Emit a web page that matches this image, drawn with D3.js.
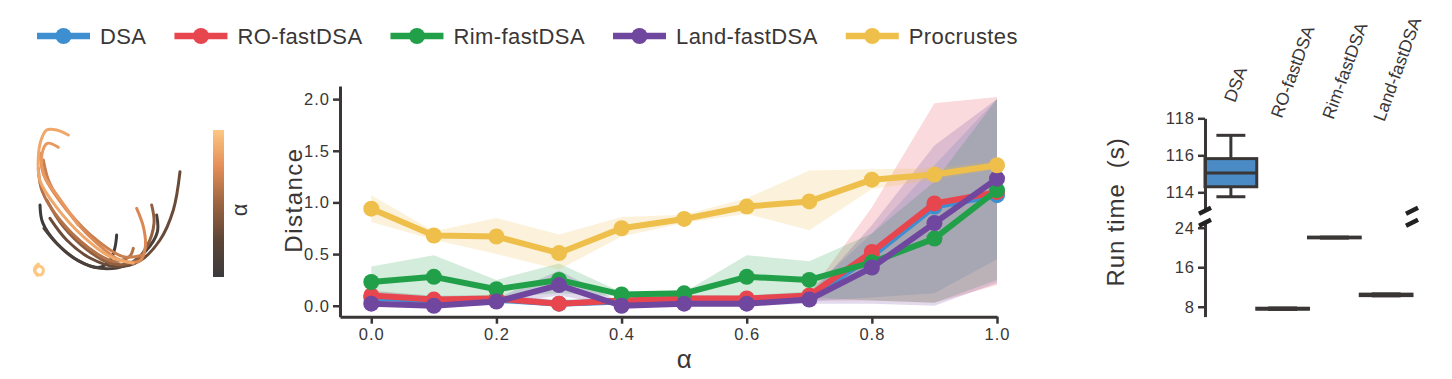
<!DOCTYPE html>
<html>
<head>
<meta charset="utf-8">
<script src="https://cdn.jsdelivr.net/npm/d3@7"></script>
<style>
body { margin: 0; background: #fff; }
svg { font-family: "Liberation Sans", Arial, sans-serif; }
</style>
</head>
<body>
<svg id="chart" width="1452" height="379"></svg>
<script>
// ---- data ----
var alphas = [0, 0.1, 0.2, 0.3, 0.4, 0.5, 0.6, 0.7, 0.8, 0.9, 1.0];
var seriesNames = ["DSA", "RO-fastDSA", "Rim-fastDSA", "Land-fastDSA", "Procrustes"];
var seriesColors = ["#3e8fd1", "#e8464f", "#22a049", "#6f479f", "#eebf4b"];

var dsaMean  = [0.08, 0.05, 0.06, 0.02, 0.04, 0.06, 0.06, 0.08, 0.48, 0.96, 1.07];
var dsaLow   = [0.03, 0.02, 0.02, 0.00, 0.01, 0.03, 0.03, 0.04, 0.08, 0.12, 0.45];
var dsaHigh  = [0.14, 0.10, 0.10, 0.06, 0.08, 0.10, 0.10, 0.14, 0.70, 1.36, 2.00];

var roMean   = [0.10, 0.06, 0.07, 0.02, 0.05, 0.07, 0.07, 0.10, 0.52, 0.99, 1.10];
var roLow    = [0.05, 0.03, 0.03, 0.00, 0.02, 0.04, 0.04, 0.05, 0.05, 0.03, 0.20];
var roHigh   = [0.15, 0.09, 0.11, 0.05, 0.08, 0.10, 0.10, 0.12, 0.95, 1.96, 2.02];

var rimMean  = [0.23, 0.28, 0.16, 0.25, 0.11, 0.12, 0.28, 0.25, 0.42, 0.65, 1.12];
var rimLow   = [0.10, 0.08, 0.08, 0.12, 0.09, 0.09, 0.10, 0.08, 0.05, 0.03, 0.25];
var rimHigh  = [0.38, 0.49, 0.25, 0.41, 0.13, 0.13, 0.49, 0.43, 0.70, 1.20, 2.00];

var landMean = [0.02, 0.00, 0.04, 0.20, 0.00, 0.02, 0.02, 0.06, 0.37, 0.80, 1.23];
var landLow  = [0.00, -0.02, 0.01, 0.10, -0.01, 0.00, 0.00, 0.02, 0.02, 0.00, 0.22];
var landHigh = [0.05, 0.03, 0.07, 0.34, 0.03, 0.04, 0.04, 0.10, 0.78, 1.55, 2.00];

var procMean = [0.94, 0.68, 0.67, 0.51, 0.75, 0.84, 0.96, 1.01, 1.22, 1.27, 1.36];
var procLow  = [0.81, 0.64, 0.50, 0.35, 0.67, 0.80, 0.89, 0.73, 1.13, 1.22, 1.32];
var procHigh = [1.07, 0.72, 0.85, 0.69, 0.86, 0.88, 1.04, 1.31, 1.32, 1.33, 1.40];

var distTicks = [0, 0.5, 1.0, 1.5, 2.0];
var alphaTicks = [0, 0.2, 0.4, 0.6, 0.8, 1.0];

// run time box plot
var boxCats = ["DSA", "RO-fastDSA", "Rim-fastDSA", "Land-fastDSA"];
var boxMin  = [113.76, 7.45, 21.9, 10.2];
var boxQ1   = [114.3, 7.5, 21.95, 10.25];
var boxMed  = [115.05, 7.6, 22.0, 10.4];
var boxQ3   = [115.82, 7.7, 22.1, 10.55];
var boxMax  = [117.08, 7.75, 22.1, 10.6];
var topTicks = [114, 116, 118];
var bottomTicks = [8, 16, 24];

// trajectories (picture units) and their alpha value
var trajAlpha = [0.0, 0.12, 0.3, 0.45, 0.58, 0.66, 0.72, 0.8, 0.86, 1.0];
var trajPts = [
  [[120,315],[128,368],[172,432],[238,484],[298,502],[330,482],[345,442],[350,405]],
  [[132,385],[172,432],[232,480],[300,505],[378,496],[438,452],[472,396],[470,345]],
  [[150,355],[200,420],[270,474],[350,500],[420,482],[480,420],[520,330],[540,215]],
  [[140,300],[190,380],[262,450],[332,490],[400,486],[440,440],[462,370],[455,315]],
  [[115,205],[126,272],[180,360],[262,440],[340,484],[388,470],[400,445]],
  [[130,180],[150,252],[210,340],[290,420],[370,470],[428,466]],
  [[120,160],[135,232],[200,330],[280,420],[360,480],[420,482],[436,440],[430,380],[410,325]],
  [[175,142],[142,130],[126,162],[130,222],[176,292],[235,375]],
  [[205,105],[170,90],[140,90],[124,118],[115,172],[120,242],[170,322],[250,410],[330,470],[400,490]],
  [[115,492],[104,504],[108,520],[124,524],[130,508],[118,498],[104,512],[112,526]]
];

var cmapStops = [0, 0.25, 0.5, 0.75, 1];
var cmapColors = ["#3b3b3c", "#5d4537", "#9c6541", "#e48e57", "#fdc782"];

// ---- setup ----
var svg = d3.select("#chart");
var ink = "#3a3636";
var cmap = d3.scaleLinear().domain(cmapStops).range(cmapColors);

// ---- legend ----
var legend = svg.append("g");
var lx = 37;
seriesNames.forEach(function(name, i)
{
  legend.append("line")
        .attr("x1", lx).attr("x2", lx + 53)
        .attr("y1", 36).attr("y2", 36)
        .attr("stroke", seriesColors[i])
        .attr("stroke-width", 6.5);
  legend.append("circle")
        .attr("cx", lx + 26.5).attr("cy", 36).attr("r", 8)
        .attr("fill", seriesColors[i]);
  var t = legend.append("text")
        .attr("x", lx + 63).attr("y", 44)
        .attr("font-size", 22)
        .attr("letter-spacing", 0.4)
        .attr("fill", ink)
        .text(name);
  lx = lx + 63 + t.node().getComputedTextLength() + 28;
});

// ---- trajectories + colorbar ----
var tx = d3.scaleLinear().domain([0, 810]).range([0, 270]);
var ty = d3.scaleLinear().domain([0, 600]).range([100, 300]);
var trajLine = d3.line()
                 .x(function(d) { return tx(d[0]); })
                 .y(function(d) { return ty(d[1]); })
                 .curve(d3.curveCatmullRom.alpha(0.5));

svg.append("g")
   .selectAll("path")
   .data(trajPts)
   .enter()
   .append("path")
   .attr("d", trajLine)
   .attr("fill", "none")
   .attr("stroke", function(d, i) { return cmap(trajAlpha[i]); })
   .attr("stroke-width", 3)
   .attr("stroke-linecap", "round");

var defs = svg.append("defs");
var grad = defs.append("linearGradient")
               .attr("id", "cbar")
               .attr("x1", 0).attr("x2", 0)
               .attr("y1", 1).attr("y2", 0);
cmapStops.forEach(function(s, i)
{
  grad.append("stop").attr("offset", s).attr("stop-color", cmapColors[i]);
});
svg.append("rect")
   .attr("x", 213).attr("y", 130)
   .attr("width", 11).attr("height", 147)
   .attr("fill", "url(#cbar)");
svg.append("text")
   .attr("transform", "translate(247,210) rotate(-90)")
   .attr("text-anchor", "middle")
   .attr("font-size", 22)
   .attr("fill", ink)
   .text("α");

// ---- distance chart ----
var x = d3.scaleLinear().domain([-0.05, 1.0]).range([340, 997]);
var y = d3.scaleLinear().domain([-0.106, 2.127]).range([316.7, 86]);

var means = [dsaMean, roMean, rimMean, landMean, procMean];
var lows  = [dsaLow, roLow, rimLow, landLow, procLow];
var highs = [dsaHigh, roHigh, rimHigh, landHigh, procHigh];

var area = d3.area()
             .x(function(d) { return x(d.a); })
             .y0(function(d) { return y(d.lo); })
             .y1(function(d) { return y(d.hi); });
var line = d3.line()
             .x(function(d) { return x(d.a); })
             .y(function(d) { return y(d.v); });

var plot = svg.append("g");
means.forEach(function(m, s)
{
  var pts = alphas.map(function(a, i)
  {
    return { a: a, v: m[i], lo: lows[s][i], hi: highs[s][i] };
  });
  plot.append("path")
      .datum(pts)
      .attr("d", area)
      .attr("fill", seriesColors[s])
      .attr("fill-opacity", 0.2);
});
means.forEach(function(m, s)
{
  var pts = alphas.map(function(a, i) { return { a: a, v: m[i] }; });
  plot.append("path")
      .datum(pts)
      .attr("d", line)
      .attr("fill", "none")
      .attr("stroke", seriesColors[s])
      .attr("stroke-width", 6)
      .attr("stroke-linejoin", "round");
  plot.selectAll(null)
      .data(pts)
      .enter()
      .append("circle")
      .attr("cx", function(d) { return x(d.a); })
      .attr("cy", function(d) { return y(d.v); })
      .attr("r", 8)
      .attr("fill", seriesColors[s]);
});

function styleAxis(g)
{
  g.select(".domain").attr("stroke", ink).attr("stroke-width", 3);
  g.selectAll(".tick line").attr("stroke", ink).attr("stroke-width", 2.5);
  g.selectAll(".tick text")
   .attr("fill", ink)
   .attr("font-size", 16.5)
   .attr("letter-spacing", 1)
   .attr("font-family", "Liberation Sans, Arial, sans-serif");
}

svg.append("g")
   .attr("transform", "translate(340,0)")
   .call(d3.axisLeft(y).tickValues(distTicks).tickFormat(d3.format(".1f"))
           .tickSize(7).tickSizeOuter(0).tickPadding(3))
   .call(styleAxis);
svg.append("g")
   .attr("transform", "translate(0,316.7)")
   .call(d3.axisBottom(x).tickValues(alphaTicks).tickFormat(d3.format(".1f"))
           .tickSize(7).tickSizeOuter(0).tickPadding(5))
   .call(styleAxis);

svg.append("text")
   .attr("transform", "translate(302,200) rotate(-90)")
   .attr("text-anchor", "middle")
   .attr("font-size", 24)
   .attr("letter-spacing", 1.5)
   .attr("fill", ink)
   .text("Distance");
svg.append("text")
   .attr("x", x(0.5)).attr("y", 368)
   .attr("text-anchor", "middle")
   .attr("font-size", 26)
   .attr("fill", ink)
   .text("α");

// ---- run time box plot ----
var bx = d3.scaleBand().domain(boxCats).range([1205, 1412]).padding(0);
var yTop = d3.scaleLinear().domain([113, 118]).range([210.8, 118.3]);
var yBot = d3.scaleLinear().domain([6, 25]).range([316.6, 222.8]);
var bw = bx.bandwidth();

function yb(v) { return v > 50 ? yTop(v) : yBot(v); }

var boxes = svg.append("g");
boxCats.forEach(function(c, i)
{
  var cx = bx(c) + bw / 2;
  boxes.append("line")
       .attr("x1", cx).attr("x2", cx)
       .attr("y1", yb(boxMin[i])).attr("y2", yb(boxQ1[i]))
       .attr("stroke", ink).attr("stroke-width", 3);
  boxes.append("line")
       .attr("x1", cx).attr("x2", cx)
       .attr("y1", yb(boxQ3[i])).attr("y2", yb(boxMax[i]))
       .attr("stroke", ink).attr("stroke-width", 3);
  [boxMin[i], boxMax[i]].forEach(function(v)
  {
    boxes.append("line")
         .attr("x1", cx - bw * 0.28).attr("x2", cx + bw * 0.28)
         .attr("y1", yb(v)).attr("y2", yb(v))
         .attr("stroke", ink).attr("stroke-width", 3);
  });
  boxes.append("rect")
       .attr("x", bx(c)).attr("width", bw)
       .attr("y", yb(boxQ3[i]))
       .attr("height", yb(boxQ1[i]) - yb(boxQ3[i]))
       .attr("fill", "#4a8bc6")
       .attr("stroke", ink).attr("stroke-width", 3);
  boxes.append("line")
       .attr("x1", bx(c)).attr("x2", bx(c) + bw)
       .attr("y1", yb(boxMed[i])).attr("y2", yb(boxMed[i]))
       .attr("stroke", ink).attr("stroke-width", 3);

  var lab = boxes.append("text")
       .attr("font-size", 17.5)
       .attr("fill", ink)
       .text(c);
  var L = lab.node().getComputedTextLength();
  var px = cx + 4 - 0.08 * (L - 36);
  var py = 94 + 0.26 * L;
  lab.attr("transform", "translate(" + px + "," + py + ") rotate(-70)");
});

svg.append("g")
   .attr("transform", "translate(1205,0)")
   .call(d3.axisLeft(yTop).tickValues(topTicks).tickFormat(d3.format("d"))
           .tickSize(7).tickSizeOuter(0).tickPadding(3))
   .call(styleAxis);
svg.append("g")
   .attr("transform", "translate(1205,0)")
   .call(d3.axisLeft(yBot).tickValues(bottomTicks).tickFormat(d3.format("d"))
           .tickSize(7).tickSizeOuter(0).tickPadding(3))
   .call(styleAxis);

// break marks
var breakY = [yTop.range()[0], yBot.range()[1]];
[1205, 1412].forEach(function(bxp)
{
  breakY.forEach(function(by)
  {
    svg.append("line")
       .attr("x1", bxp - 6).attr("y1", by + 3)
       .attr("x2", bxp + 6).attr("y2", by - 3)
       .attr("stroke", "#222").attr("stroke-width", 4.5);
  });
});

svg.append("text")
   .attr("transform", "translate(1124,212) rotate(-90)")
   .attr("text-anchor", "middle")
   .attr("font-size", 24)
   .attr("letter-spacing", 0.9)
   .attr("fill", ink)
   .style("white-space", "pre")
   .text("Run time  (s)");
</script>
</body>
</html>
